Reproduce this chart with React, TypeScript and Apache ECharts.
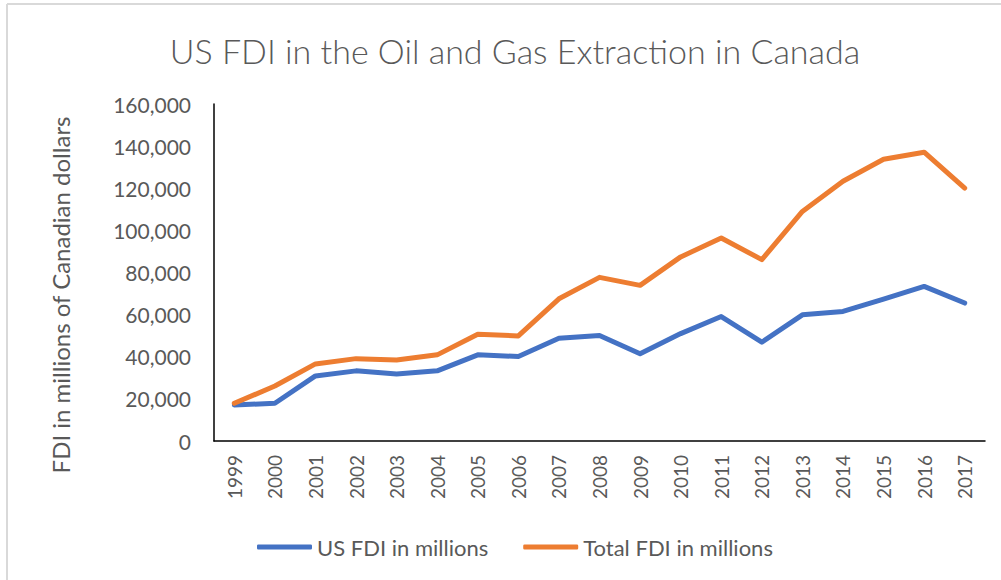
import React, { useEffect, useRef } from "react";
import * as echarts from "echarts";

const years = ["1999","2000","2001","2002","2003","2004","2005","2006","2007","2008","2009","2010","2011","2012","2013","2014","2015","2016","2017"];
const usFdi = [17100, 17900, 30900, 33300, 31800, 33300, 40900, 40100, 48800, 50100, 41400, 51000, 59100, 46900, 59900, 61500, 67400, 73400, 65500];
const totalFdi = [17900, 26100, 36600, 39100, 38500, 40900, 50700, 49900, 67500, 77700, 73900, 87400, 96400, 86100, 109000, 123300, 133800, 137100, 120100];
const yTicks = { min: 0, max: 160000, interval: 20000 };

const FONT = "Lato, 'Open Sans', sans-serif";
const GRAY = "#595959";

export default function App() {
  const ref = useRef<HTMLDivElement>(null);
  useEffect(() => {
    if (!ref.current) return;
    const chart = echarts.init(ref.current, undefined, { renderer: "svg" });
    chart.setOption({
      animation: false,
      backgroundColor: "#ffffff",
      textStyle: { fontFamily: FONT },
      title: {
        text: "US FDI in the Oil and Gas Extraction in Canada",
        left: 510,
        textAlign: "center",
        top: 28,
        textStyle: { fontFamily: FONT, fontSize: 34, fontWeight: 300, color: GRAY },
      },
      graphic: [
        { type: "line", shape: { x1: 7, y1: 4, x2: 7, y2: 580 }, style: { stroke: "#d9d9d9", lineWidth: 2 } },
        { type: "line", shape: { x1: 7, y1: 4, x2: 1001, y2: 4 }, style: { stroke: "#d9d9d9", lineWidth: 2 } },
        {
          type: "text",
          x: 60,
          y: 295,
          rotation: Math.PI / 2,
          style: {
            text: "FDI in millions of Canadian dollars",
            fontFamily: FONT,
            fontSize: 24,
            fill: GRAY,
            align: "center",
            verticalAlign: "middle",
          },
        },
      ],
      legend: {
        left: 252,
        top: 531,
        icon: "roundRect",
        itemWidth: 55,
        itemHeight: 5,
        itemGap: 35,
        textStyle: { fontFamily: FONT, fontSize: 22, color: GRAY },
        data: ["US FDI in millions", "Total FDI in millions"],
      },
      grid: { left: 214, right: 16, top: 104, bottom: 139, containLabel: false },
      xAxis: {
        type: "category",
        data: years,
        boundaryGap: true,
        axisLine: { lineStyle: { color: "#000000", width: 1.5 } },
        axisTick: { show: false },
        axisLabel: { rotate: 90, fontFamily: FONT, fontSize: 19, color: GRAY, margin: 14 },
      },
      yAxis: {
        type: "value",
        min: yTicks.min,
        max: yTicks.max,
        interval: yTicks.interval,
        splitLine: { show: false },
        axisLine: { show: true, lineStyle: { color: "#000000", width: 1.5 } },
        axisTick: { show: false },
        axisLabel: {
          fontFamily: FONT,
          fontSize: 21,
          color: GRAY,
          margin: 23,
          formatter: (v: number) => v.toLocaleString("en-US"),
        },
      },
      series: [
        {
          name: "US FDI in millions",
          type: "line",
          data: usFdi,
          symbol: "none",
          lineStyle: { color: "#4472C4", width: 5, cap: "round", join: "round" },
          itemStyle: { color: "#4472C4" },
        },
        {
          name: "Total FDI in millions",
          type: "line",
          data: totalFdi,
          symbol: "none",
          lineStyle: { color: "#ED7D31", width: 5, cap: "round", join: "round" },
          itemStyle: { color: "#ED7D31" },
        },
      ],
    });
    return () => chart.dispose();
  }, []);
  return (
    <div style={{ position: "fixed", left: 0, top: 0, width: 1001, height: 580 }}>
      <div ref={ref} style={{ width: 1001, height: 580 }} />
    </div>
  );
}
